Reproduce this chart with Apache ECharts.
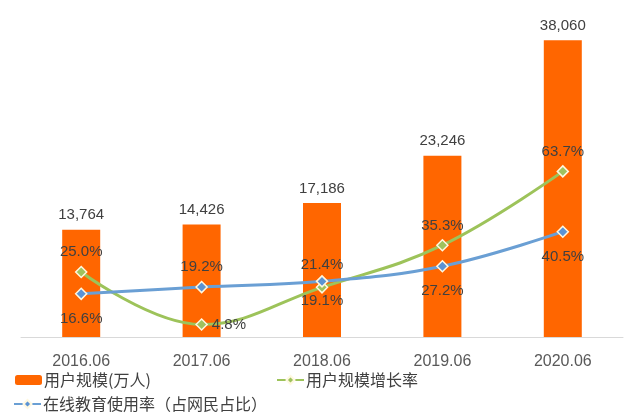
<!DOCTYPE html>
<html><head><meta charset="utf-8">
<script src="https://cdn.jsdelivr.net/npm/echarts@6/dist/echarts.min.js"></script>
<style>html,body{margin:0;padding:0;background:#fff}#c{width:628px;height:418px}</style>
</head><body><div id="c"></div>
<script>
const categories = ['2016.06','2017.06','2018.06','2019.06','2020.06'];
const users = [13764, 14426, 17186, 23246, 38060];
const growthRate = [25.0, 4.8, 19.1, 35.3, 63.7];
const usageRate = [16.6, 19.2, 21.4, 27.2, 40.5];
const seriesNames = ['用户规模(万人)', '用户规模增长率', '在线教育使用率（占网民占比）'];

const FONT = 'Liberation Sans, Arial, Noto Sans CJK SC, sans-serif';
const chart = echarts.init(document.getElementById('c'));
const growthPos = ['top','right','bottom','top','top'];
const growthDist = [6, 4, 0, 6, 6];
const usagePos = ['bottom','top','top','bottom','bottom'];
const usageDist = [11, 6, 3, 11, 11];
const legendText = {fontSize: 16, color: '#404040', fontFamily: 'Noto Sans CJK SC', padding: [0,0,0,-3]};
chart.setOption({
  animation: false,
  textStyle: {fontFamily: FONT},
  grid: {left: 21, right: 5, top: 25, bottom: 81},
  legend: [
    {left: 15, top: 372, padding: 0, itemWidth: 27, itemHeight: 10, data: [seriesNames[0]], textStyle: legendText},
    {left: 276, top: 372, padding: 0, itemWidth: 27, itemHeight: 10, data: [seriesNames[1]], textStyle: legendText},
    {left: 13, top: 396, padding: 0, itemWidth: 27, itemHeight: 10, data: [seriesNames[2]], textStyle: legendText}
  ],
  xAxis: {
    type: 'category', data: categories,
    axisLine: {lineStyle: {color: '#d9d9d9', width: 1}},
    axisTick: {show: false},
    axisLabel: {fontSize: 16, color: '#595959', margin: 17, fontFamily: FONT}
  },
  yAxis: [
    {type: 'value', min: 0, max: 40000, show: false, splitLine: {show: false}},
    {type: 'value', min: 0, max: 120, show: false, splitLine: {show: false}}
  ],
  series: [
    {name: seriesNames[0], type: 'bar', data: users, barWidth: 38,
     itemStyle: {color: '#FF6600'},
     label: {show: true, position: 'top', distance: 7, fontSize: 15, color: '#404040',
       formatter: p => p.value.toLocaleString('en-US')}},
    {name: seriesNames[1], type: 'line', yAxisIndex: 1, smooth: 0.4,
     data: growthRate.map((v,i) => ({value: v, label: {position: growthPos[i], distance: growthDist[i]}})),
     symbol: 'diamond', symbolSize: 11,
     lineStyle: {color: '#9DC35A', width: 3},
     itemStyle: {color: '#9FC25E', borderColor: '#FFF8E0', borderWidth: 1.5},
     label: {show: true, fontSize: 15, color: '#404040',
       formatter: p => p.value.toFixed(1) + '%'},
     z: 3},
    {name: seriesNames[2], type: 'line', yAxisIndex: 1, smooth: 0.4,
     data: usageRate.map((v,i) => ({value: v, label: {position: usagePos[i], distance: usageDist[i]}})),
     symbol: 'diamond', symbolSize: 11,
     lineStyle: {color: '#6A9FD4', width: 3},
     itemStyle: {color: '#5B93D3', borderColor: '#FFF8E0', borderWidth: 1.5},
     label: {show: true, fontSize: 15, color: '#404040',
       formatter: p => p.value.toFixed(1) + '%'},
     z: 4}
  ]
});
</script></body></html>
